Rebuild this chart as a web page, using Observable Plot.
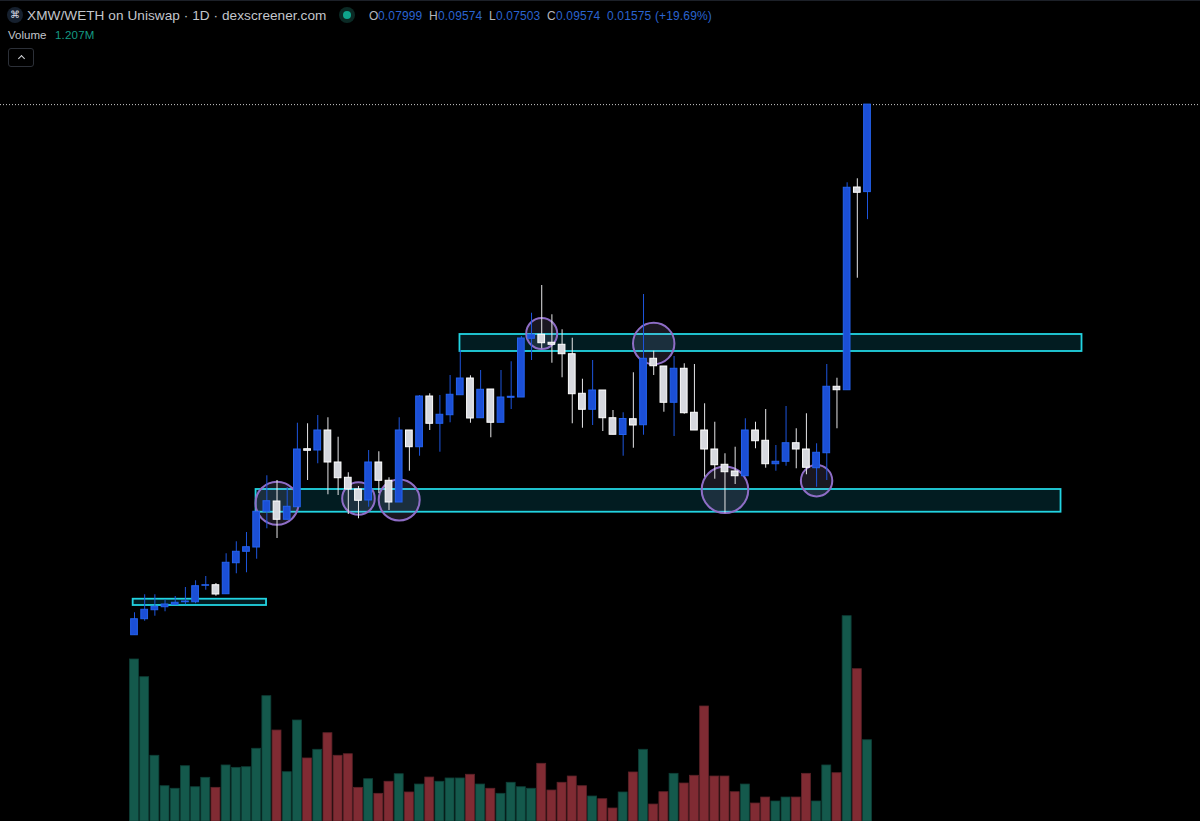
<!DOCTYPE html>
<html>
<head>
<meta charset="utf-8">
<script src="https://cdn.jsdelivr.net/npm/d3@7"></script>
<script src="https://cdn.jsdelivr.net/npm/@observablehq/plot@0.6"></script>
<style>
html,body{margin:0;padding:0;background:#000;width:1200px;height:821px;overflow:hidden}
body{position:relative;font-family:"Liberation Sans",Arial,sans-serif}
#head{position:relative;height:100px;width:1200px;box-sizing:border-box;border-top:1px solid #1c2028}
#head span,#head div{position:absolute;white-space:nowrap}
.t{left:27px;top:7px;font-size:13.6px;color:#c3c6cc;letter-spacing:.06px}
.icon{left:7px;top:6px;width:16px;height:16px;border-radius:50%;background:#16202e;color:#d8dce4;font-size:10px;line-height:16px;text-align:center}
.halo{left:339px;top:6px;width:16px;height:16px;border-radius:50%;background:#0b2a25}
.dot{left:343px;top:10px;width:8px;height:8px;border-radius:50%;background:#0fa58c}
.k{top:8px;font-size:12px;color:#b4b7bd}
.v{top:8px;font-size:12px;color:#2a63cf;letter-spacing:.15px}
.vol{left:8px;top:28px;font-size:11.5px;color:#c3c6cc}
.volv{left:55px;top:28px;font-size:11.5px;color:#159a84;letter-spacing:.2px}
.btn{left:8px;top:47px;width:24px;height:17px;border:1px solid #2c3038;border-radius:3px}
.chev{left:9.5px;top:7px;width:4px;height:4px;border-left:1.4px solid #d4d6da;border-top:1.4px solid #d4d6da;transform:rotate(45deg)}
#price,#volume{position:absolute;left:0}
#price{top:100px}#volume{top:606px}
svg{display:block;background:transparent!important}
</style>
</head>
<body>
<div id="head">
<div class="icon">⌘</div>
<span class="t">XMW/WETH on Uniswap · 1D · dexscreener.com</span>
<div class="halo"></div><div class="dot"></div>
<span class="k" style="left:369px">O</span><span class="v" style="left:378px">0.07999</span>
<span class="k" style="left:429px">H</span><span class="v" style="left:438px">0.09574</span>
<span class="k" style="left:489px">L</span><span class="v" style="left:496px">0.07503</span>
<span class="k" style="left:547px">C</span><span class="v" style="left:556px">0.09574</span>
<span class="v" style="left:607px">0.01575 (+19.69%)</span>
<span class="vol">Volume</span><span class="volv">1.207M</span>
<div class="btn"><div class="chev"></div></div>
</div>
<div id="price"></div>
<div id="volume"></div>
<script>
// Prices are in units of 0.00001 WETH, one entry per daily candle
const opens = [23,311,473,527,571,617,617,913,923,761,1319,1525,1602,2245,2430,2101,2327,3371,3348,3708,3132,2857,2646,2448,3132,2803,2412,3708,3407,4320,3829,3983,4343,4644,3929,4446,3847,4297,4302,5359,5431,5287,5251,5081,4369,4081,4428,3929,3627,3911,3803,4999,4860,4207,4819,4027,3708,3366,3091,2970,2885,3708,3523,3101,3145,3479,3366,3029,3299,4495,4433,8082,7999];
const highs = [427,751,751,661,720,882,1003,1080,954,1489,1705,1872,2250,2893,2808,2682,3839,3829,3978,3937,3587,2947,2700,3348,3325,2857,3937,3708,4338,4369,4338,4698,5148,4693,4788,4446,4788,4945,5400,5819,6318,5791,5521,5369,4631,4968,4428,4068,4027,4747,6156,5135,4860,5040,4909,4896,4189,3857,3289,3407,3919,3857,4086,3438,4140,3739,4009,3469,4896,4649,8167,8239,9574];
const lows = [23,275,365,445,571,571,589,833,725,761,1129,1147,1391,1939,1764,2101,2327,2808,3109,2551,2538,2196,2119,2327,2574,2268,2412,2975,3245,3708,3317,3847,4343,3839,3929,3577,3847,4086,4302,4968,5179,4919,4657,3829,3749,3798,3690,3631,3245,3389,3623,4698,4037,3600,4001,3708,2867,2831,2219,2736,2885,3379,3029,2975,3065,3019,2911,2687,2808,3739,4433,6449,7503];
const closes = [311,481,535,576,607,630,905,923,756,1327,1525,1607,2245,2435,2101,2335,3366,3343,3708,3132,2849,2646,2443,3132,2803,2412,3708,3407,4320,3829,3991,4351,4644,3924,4441,3847,4302,4315,5364,5431,5279,5251,5081,4361,4081,4428,3929,3631,3915,3798,4999,4865,4207,4819,4019,3708,3366,3083,2957,2885,3708,3515,3101,3145,3479,3366,3037,3307,4495,4433,8077,7987,9574];
// Daily volume in millions of XMW
const volumes = [2.406,2.143,0.976,0.524,0.486,0.821,0.509,0.649,0.500,0.832,0.797,0.806,1.080,1.861,1.351,0.732,1.500,0.936,1.065,1.311,0.976,0.999,0.500,0.628,0.411,0.590,0.702,0.431,0.549,0.653,0.590,0.639,0.639,0.694,0.549,0.486,0.411,0.575,0.509,0.486,0.857,0.460,0.575,0.668,0.524,0.371,0.331,0.193,0.431,0.728,1.065,0.252,0.435,0.708,0.564,0.679,1.708,0.668,0.668,0.435,0.549,0.267,0.356,0.297,0.356,0.356,0.708,0.297,0.832,0.717,3.049,2.262,1.207];
// Support / resistance zones: candle-index extents and price bounds
const zoneStarts = [31.97,11.94,-0.13];
const zoneEnds = [93.07,91.01,12.97];
const zoneTops = [5436,2646,671];
const zoneBottoms = [5130,2237,558];
// Highlighted touches: candle index and price level
const touchIndex = [14,22,26,40,51,58,67];
const touchPrice = [2399,2484,2457,5454,5274,2641,2804];
const touchSize = [21.5,16.3,20.5,15.5,20.7,23.3,15.7];

const candles = opens.map((o,i)=>({i,o,h:highs[i],l:lows[i],c:closes[i],v:volumes[i],up:closes[i]>=o}));
const zones = zoneStarts.map((s,i)=>({s,e:zoneEnds[i],t:zoneTops[i],b:zoneBottoms[i]}));
const touches = touchIndex.map((x,i)=>({x,p:touchPrice[i],r:touchSize[i]}));
const up = candles.filter(d=>d.up), down = candles.filter(d=>!d.up);
const xScale = {domain:[0,72],range:[134,867],axis:null};

const body = (rows,fill,stroke)=>Plot.rect(rows,{x1:d=>d.i-.33,x2:d=>d.i+.33,y1:"o",y2:"c",fill,stroke,strokeWidth:1});
const wick = (rows,stroke)=>Plot.ruleX(rows,{x:"i",y1:"l",y2:"h",stroke,strokeWidth:1});

const price = Plot.plot({
  width:1200,height:540,margin:0,
  x:xScale,
  y:{domain:[-72,9648],range:[540,0],axis:null},
  r:{type:"identity"},
  marks:[
    Plot.ruleY([highs[highs.length-1]],{stroke:"#c9c9c9",strokeWidth:1,strokeDasharray:"1 2"}),
    Plot.rect(zones,{x1:"s",x2:"e",y1:"b",y2:"t",fill:"#021c21",stroke:"#22d4e2",strokeWidth:1.8}),
    Plot.dot(touches,{x:"x",y:"p",r:"r",fill:"#c8b4ff",fillOpacity:.13,stroke:"#8e6dc6",strokeWidth:2}),
    wick(up,"#1d55dd"),
    wick(down,"#e6e6e8"),
    body(up,"#1b4fd6","#2563ee"),
    body(down,"#d6d8de","#ffffff")
  ]
});
document.getElementById("price").append(price);

const bar = (rows,fill,stroke)=>Plot.rect(rows,{x1:d=>d.i-.44,x2:d=>d.i+.44,y1:0,y2:"v",fill,stroke,strokeWidth:.8});
const vol = Plot.plot({
  width:1200,height:215,margin:0,
  x:xScale,
  y:{domain:[0,3.193],range:[215,0],axis:null},
  marks:[bar(up,"#14594c","#0e3f37"),bar(down,"#802b33","#5c2228")]
});
document.getElementById("volume").append(vol);
</script>
</body>
</html>
